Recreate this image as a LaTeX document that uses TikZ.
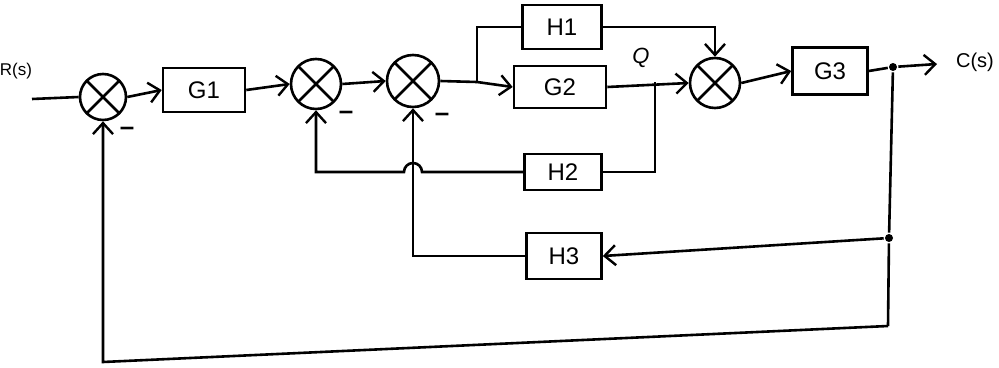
\documentclass[tikz,border=0pt]{standalone}
\usepackage{fontspec}
\setmainfont{Liberation Sans}
\usetikzlibrary{arrows.meta}
\begin{document}
\begin{tikzpicture}[x=1pt,y=-1pt,
  line width=2.6pt,
  >={Straight Barb[length=11pt,width=20pt,line width=2.4pt]},
  blk/.style={draw,minimum width=78pt,minimum height=44pt,inner sep=0pt,font=\fontsize{24}{28}\selectfont},
  sumj/.style={circle,draw,minimum size=50pt,inner sep=0pt,
    path picture={\draw[line width=2.6pt] (path picture bounding box.north west)--(path picture bounding box.south east)
      (path picture bounding box.north east)--(path picture bounding box.south west);}},
  lbl/.style={font=\fontsize{17}{20}\selectfont},
  sgn/.style={font=\fontsize{26}{28}\selectfont\bfseries},
  dot/.style={circle,fill,inner sep=0pt,minimum size=8pt}]
\useasboundingbox (0,0) rectangle (999,367);
\fill[white] (0,0) rectangle (999,367);
% nodes
\node[lbl] (R) at (16,71) {R(s)};
\coordinate (in) at (32,99);
\node[sumj,minimum size=46pt] (s1) at (103,97) {};
\node[blk,minimum width=82pt] (G1) at (204,90) {G1};
\node[sumj] (s2) at (316,84) {};
\node[sumj,minimum size=52pt] (s3) at (413,81) {};
\coordinate (j1) at (477,82);
\node[blk,minimum width=79pt] (H1) at (562,27) {H1};
\node[blk,minimum width=92pt,minimum height=42pt] (G2) at (560,87) {G2};
\coordinate (j2) at (655,82);
\node[sumj] (s4) at (715,83) {};
\node[blk,minimum width=75pt,minimum height=47pt] (G3) at (830,71) {G3};
\node[dot] (j3) at (893,67) {};
\coordinate (out) at (937,64);
\node[lbl,font=\fontsize{20}{24}\selectfont] (C) at (975,62) {C(s)};
\node[blk,minimum width=77pt,minimum height=36pt] (H2) at (563,172) {H2};
\node[blk,minimum width=75pt,minimum height=46pt] (H3) at (564,256) {H3};
\node[dot] (j4) at (889,238) {};
\coordinate (b4) at (888,326);
\coordinate (b1) at (103,362);
\node[lbl,font=\fontsize{22}{24}\selectfont\itshape] (Q) at (641,58) {Q};
% signs
\node[sgn] (m1) at (127,131) {--};
\node[sgn] (m2) at (346,115) {--};
\node[sgn] (m3) at (442,117) {--};
% forward path
\draw (in) -- (s1.west);
\draw[->] (s1.east) -- (G1.west);
\draw[->] (G1.east) -- (s2.west);
\draw[->] (s2.east) -- (s3.west);
\draw (s3.east) -- (j1);
\draw[->] (j1) -- (G2.west);
\draw (j1) |- (H1.west);
\draw[->] (G2.east) -- (s4.west);
\draw[->] (H1.east) -| (s4.north);
\draw[->] (s4.east) -- (G3.west);
\draw (G3.east) -- (j3);
\draw[->] (j3) -- (out);
% H2 loop
\draw (j2) |- (H2.east);
\draw[->] (H2.west) -- ([xshift=9pt]s3.south |- H2.west) arc[start angle=0,end angle=-180,radius=9] -| (s2.south);
% H3 loop
\draw (j3) -- (j4) -- (b4);
\draw[->] (j4) -- (H3.east);
\draw[->] (H3.west) -| (s3.south);
% main feedback
\draw[->] (b4) -- (b1) -- (s1.south);
\end{tikzpicture}
\end{document}
